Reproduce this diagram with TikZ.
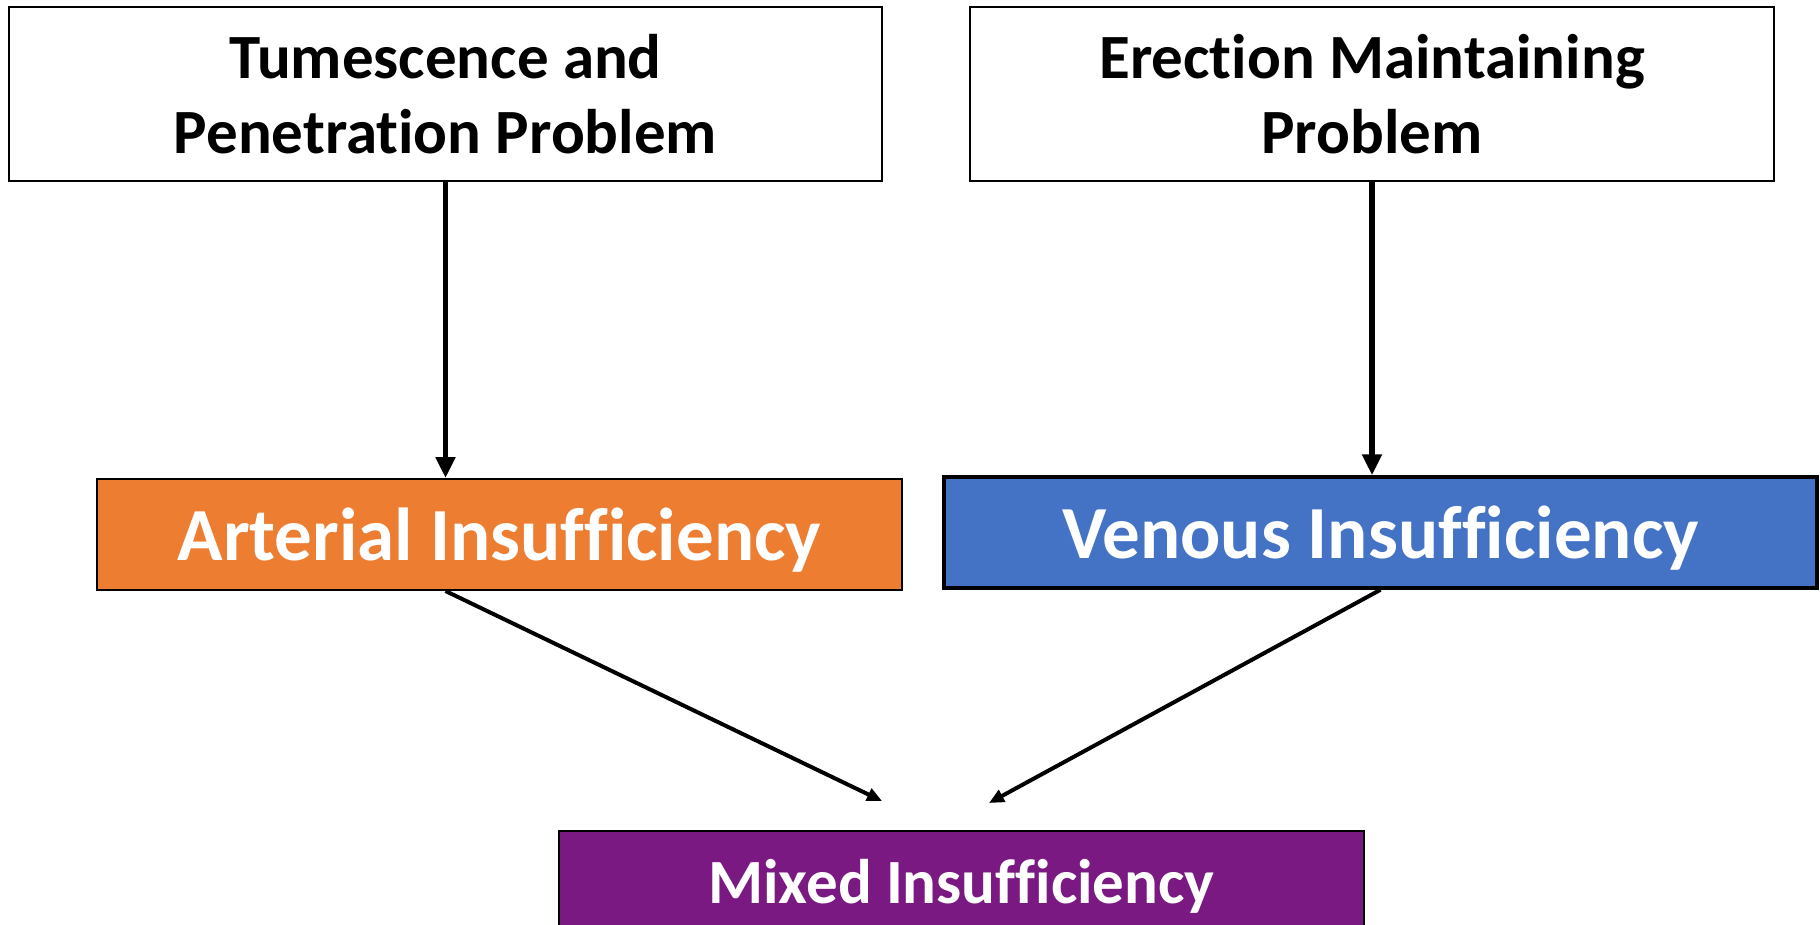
\documentclass[tikz,border=0pt]{standalone}
\usepackage{fontspec}
\setmainfont{Carlito}[Ligatures={NoCommon,NoRare,NoContextual}]
\usepackage{tikz}
\usetikzlibrary{arrows.meta}

\definecolor{artorange}{HTML}{ED7D31}
\definecolor{venblue}{HTML}{4472C4}
\definecolor{mixpurple}{HTML}{7B1983}

\begin{document}
\begin{tikzpicture}[x=1pt,y=-1pt,
probbox/.style={draw,line width=1.5pt,minimum height=174pt,align=center,inner sep=0pt,font=\bfseries\fontsize{63}{75}\selectfont},
insbox/.style n args={3}{draw,fill=#1,line width=#2,minimum width=#3,minimum height=111pt,inner sep=0pt,text depth=0pt,text=white,font=\bfseries\fontsize{75}{90}\selectfont},
arr/.style={-{Triangle[length=21pt,width=19pt]},line width=5.5pt},
darr/.style={-{Triangle[length=15pt,width=13pt]},line width=4pt}]
\clip (0,0) rectangle (1820,924);
\fill[white] (0,0) rectangle (1820,924);
% problems
\node[probbox,minimum width=873pt] (tum) at (445.5,94) {Tumescence and\\Penetration Problem};
\node[probbox,minimum width=804pt] (ere) at (1372,94) {Erection Maintaining\\Problem};
% insufficiencies
\node[insbox={artorange}{2pt}{805pt}] (art) at (499.5,534.5) {Arterial Insufficiency};
\node[insbox={venblue}{3.5pt}{873pt}] (ven) at (1380.5,532.5) {Venous Insufficiency};
\node[insbox={mixpurple}{1.5pt}{805pt},text depth=,font=\bfseries\fontsize{63}{75}\selectfont] (mix) at (961.5,886.5) {Mixed Insufficiency};
\coordinate (mixL) at (882,801);
\coordinate (mixR) at (989,803);
% connectors
\draw[arr] (tum.south) -- (tum.south |- art.north);
\draw[arr] (ere.south) -- (ere.south |- ven.north);
\draw[darr] (tum.south |- art.south) -- (mixL);
\draw[darr] (ven.south) -- (mixR);
\end{tikzpicture}
\end{document}
